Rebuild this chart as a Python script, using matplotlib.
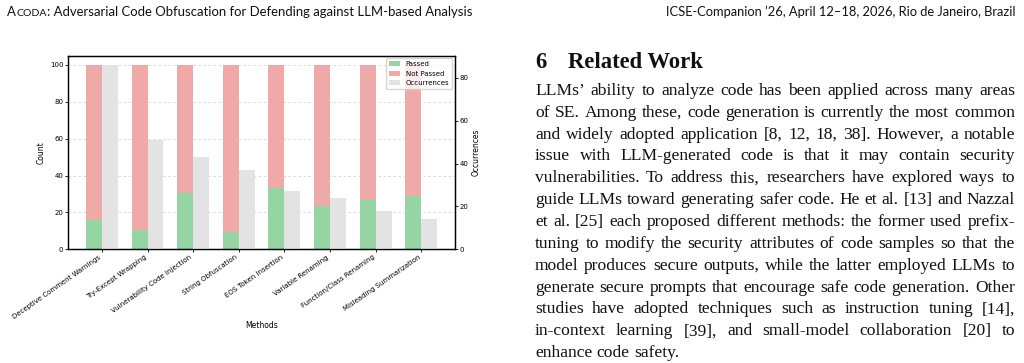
import numpy as np
import matplotlib
matplotlib.use("Agg")
import matplotlib.pyplot as plt
from matplotlib.font_manager import FontProperties

# ---------------- data ----------------
methods = ["Deceptive Comment Warnings", "Try-Except Wrapping",
           "Vulnerability Code Injection", "String Obfuscation",
           "EOS Token Insertion", "Variable Renaming",
           "Function/Class Renaming", "Misleading Summarization"]
passed = [16, 10.5, 30.5, 9.5, 33.5, 23.5, 27, 29]
not_passed = [84, 89.5, 69.5, 90.5, 66.5, 76.5, 73, 71]
occurrences = [86, 51, 43, 37, 27, 24, 18, 14]
series_labels = ["Passed", "Not Passed", "Occurrences"]

header_left_cap = "A"
header_left_sc = "CODA"
header_left_rest = ": Adversarial Code Obfuscation for Defending against LLM-based Analysis"
header_right = "ICSE-Companion ’26, April 12–18, 2026, Rio de Janeiro, Brazil"
section_num = "6"
section_title = "Related Work"
body_lines = [
    "LLMs’ ability to analyze code has been applied across many areas",
    "of SE. Among these, code generation is currently the most common",
    "and widely adopted application [8, 12, 18, 38]. However, a notable",
    "issue with LLM-generated code is that it may contain security",
    "vulnerabilities. To address this, researchers have explored ways to",
    "guide LLMs toward generating safer code. He et al. [13] and Nazzal",
    "et al. [25] each proposed different methods: the former used prefix-",
    "tuning to modify the security attributes of code samples so that the",
    "model produces secure outputs, while the latter employed LLMs to",
    "generate secure prompts that encourage safe code generation. Other",
    "studies have adopted techniques such as instruction tuning [14],",
    "in-context learning [39], and small-model collaboration [20] to",
    "enhance code safety.",
]

c_pass = "#95d4a3"
c_fail = "#f0a9a9"
c_occ = "#e3e3e3"

W, H = 1024, 363
fig = plt.figure(figsize=(W / 100, H / 100), dpi=100)
fig.patch.set_facecolor("white")

def fx(px):
    return px / W

def fy(py):
    return 1 - py / H

# ---------------- chart ----------------
ax = fig.add_axes([fx(68.3), fy(249.3), fx(455) - fx(68.3), fy(55.7) - fy(249.3)])
ax2 = ax.twinx()
x = np.arange(len(methods))
w = 0.35
ax.bar(x - w / 2, passed, w, color=c_pass, label=series_labels[0])
ax.bar(x - w / 2, not_passed, w, bottom=passed, color=c_fail, label=series_labels[1])
ax2.bar(x + w / 2, occurrences, w, color=c_occ, label=series_labels[2])

ax.set_axisbelow(True)
ax.grid(axis="y", linestyle=(0, (3, 3)), color="#d4d4d4", linewidth=0.6)
ax.set_xticks(x)
ax.set_xticklabels(methods, rotation=35, ha="right", fontsize=5)
ax.set_ylabel("Count", fontsize=5.5, labelpad=3)
ax.set_xlabel("Methods", fontsize=5.5, labelpad=1)
ax2.set_ylabel("Occurrences", fontsize=5.5, labelpad=2)
for a in (ax, ax2):
    a.tick_params(labelsize=5, length=2, width=0.6, pad=1.5)
    for s in a.spines.values():
        s.set_linewidth(0.9)

h1, l1 = ax.get_legend_handles_labels()
h2, l2 = ax2.get_legend_handles_labels()
leg = ax2.legend(h1 + h2, l1 + l2, loc="upper right", fontsize=5,
                 handlelength=1.6, borderaxespad=0.4)

# ---------------- text helpers ----------------
renderer = fig.canvas.get_renderer()

def tw(s, fp):
    w_, h_, d_ = renderer.get_text_width_height_descent(s, fp, ismath=False)
    return w_

def fit_size(s, fp_kwargs, target):
    fp = FontProperties(size=10, **fp_kwargs)
    return 10 * target / tw(s, fp)

# header
hfam = "Lato"
base = FontProperties(family=hfam, size=10)
sc_ratio = 0.8
tot10 = tw(header_left_cap, base) + tw(header_left_sc, FontProperties(family=hfam, size=10 * sc_ratio)) \
    + tw(header_left_rest, base)
hs = 10 * (470 - 7.3) / tot10
xpos = 7.3
yb = 16
for txt, sz in ((header_left_cap, hs), (header_left_sc, hs * sc_ratio), (header_left_rest, hs)):
    fp = FontProperties(family=hfam, size=sz)
    fig.text(fx(xpos), fy(yb), txt, fontproperties=fp, va="baseline", ha="left", color="#111111")
    xpos += tw(txt, fp)
hs_r = fit_size(header_right, dict(family=hfam), 1015 - 665)
fig.text(fx(1015), fy(yb), header_right, fontproperties=FontProperties(family=hfam, size=hs_r),
         va="baseline", ha="right", color="#111111")

# section heading
bfam = "Liberation Serif"
ts = fit_size(section_title, dict(family=bfam, weight="bold"), 135)
fph = FontProperties(family=bfam, weight="bold", size=ts)
fig.text(fx(535), fy(68), section_num, fontproperties=fph, va="baseline", ha="left", color="#111111")
fig.text(fx(568), fy(68), section_title, fontproperties=fph, va="baseline", ha="left", color="#111111")

# justified body
x0, x1 = 535, 1015
fp10 = FontProperties(family=bfam, size=10)
space10 = tw("a a", fp10) - tw("aa", fp10)
nat = [sum(tw(wd, fp10) for wd in ln.split(" ")) + space10 * (len(ln.split(" ")) - 1)
       for ln in body_lines[:-1]]
bs = 10 * (x1 - x0 - 2) / max(nat)
fpb = FontProperties(family=bfam, size=bs)
y0, y_last = 95, 357
lh = (y_last - y0) / (len(body_lines) - 1)
for i, ln in enumerate(body_lines):
    words = ln.split(" ")
    widths = [tw(wd, fpb) for wd in words]
    if i < len(body_lines) - 1 and len(words) > 1:
        gap = (x1 - x0 - sum(widths)) / (len(words) - 1)
    else:
        gap = tw("a a", fpb) - tw("aa", fpb)
    xp = x0
    for wd, wdt in zip(words, widths):
        fig.text(fx(xp), fy(y0 + i * lh), wd, fontproperties=fpb, va="baseline", ha="left",
                 color="#111111")
        xp += wdt + gap

fig.savefig("out.png", dpi=100, facecolor="white")
